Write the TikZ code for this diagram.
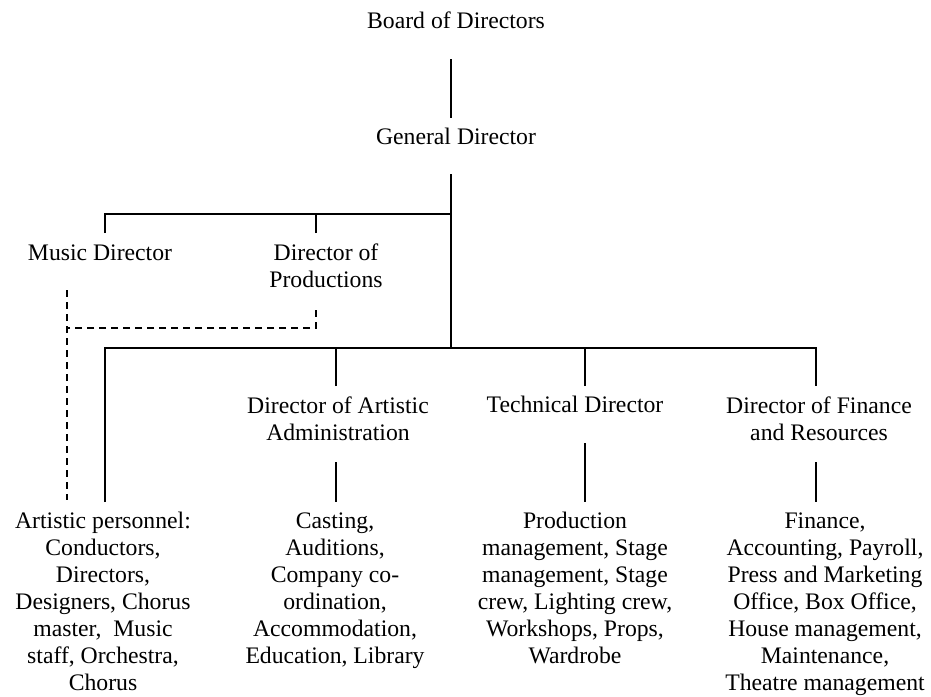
\documentclass[tikz,border=0pt]{standalone}
\usepackage{fontspec}
\setmainfont{Liberation Serif}
\begin{document}
\begin{tikzpicture}[x=1pt,y=-1pt,
  lbl/.style={anchor=base,inner sep=0pt,font=\fontsize{23.7}{27}\selectfont},
  link/.style={line width=1.5pt},
  dotted link/.style={line width=1.5pt,dash pattern=on 7pt off 5pt}]
\newcommand{\stack}[1]{\begin{tabular}[t]{@{}c@{}}#1\end{tabular}}
\useasboundingbox (0,0) rectangle (931,696);

% top of the hierarchy
\node[lbl] (board) at (456,28) {Board of Directors};
\node[lbl] (gd) at (456,144) {General Director};

% first tier
\node[lbl] (music) at (100,260) {Music Director};
\node[lbl] (prod) at (326,260) {\stack{Director of\\Productions}};

% second tier
\node[lbl] (artadm) at (338,413) {\stack{Director of Artistic\\Administration}};
\node[lbl] (tech) at (575,412) {Technical Director};
\node[lbl] (fin) at (819,413) {\stack{Director of Finance\\and Resources}};

% departments
\node[lbl] (artpers) at (103,528) {\stack{Artistic personnel:\\Conductors,\\Directors,\\Designers, Chorus\\master, \ Music\\staff, Orchestra,\\Chorus}};
\node[lbl] (casting) at (335,528) {\stack{Casting,\\Auditions,\\Company co-\\ordination,\\Accommodation,\\Education, Library}};
\node[lbl] (prodmgmt) at (575,528) {\stack{Production\\management, Stage\\management, Stage\\crew, Lighting crew,\\Workshops, Props,\\Wardrobe}};
\node[lbl] (finance) at (825,528) {\stack{Finance,\\Accounting, Payroll,\\Press and Marketing\\Office, Box Office,\\House management,\\Maintenance,\\Theatre management}};

% junction and end points of the connectors
\coordinate (boardB) at (451,59);
\coordinate (gdT) at (451,118);
\coordinate (gdB) at (451,174);
\coordinate (trunkB) at (451,348);
\coordinate (barA) at (451,214);
\coordinate (musicT) at (105,233);
\coordinate (prodT) at (316,233);
\coordinate (musicB) at (67,290);
\coordinate (prodB) at (316,310);
\coordinate (dashY) at (67,328);
\coordinate (artpersD) at (67,500);
\coordinate (artpersT) at (105,502);
\coordinate (barL) at (105,348);
\coordinate (barR) at (816,348);
\coordinate (artadmT) at (336,386);
\coordinate (techT) at (585,386);
\coordinate (finT) at (816,386);
\coordinate (artadmB) at (336,462);
\coordinate (techB) at (585,443);
\coordinate (finB) at (816,462);
\coordinate (castingT) at (336,502);
\coordinate (prodmgmtT) at (585,502);
\coordinate (financeT) at (816,502);

% solid reporting lines
\draw[link] (boardB) -- (gdT);
\draw[link] (gdB) -- (trunkB);
\draw[link] (musicT) |- (barA);
\draw[link] (prodT) -- (prodT |- barA);
\draw[link] (artpersT) -- (barL) -- (barR) -- (finT);
\draw[link] (artadmT) -- (artadmT |- barL);
\draw[link] (techT) -- (techT |- barL);
\draw[link] (artadmB) -- (castingT);
\draw[link] (techB) -- (prodmgmtT);
\draw[link] (finB) -- (financeT);

% dashed lines
\draw[dotted link] (musicB) -- (artpersD);
\draw[dotted link] (prodB) |- (dashY);
\end{tikzpicture}
\end{document}
